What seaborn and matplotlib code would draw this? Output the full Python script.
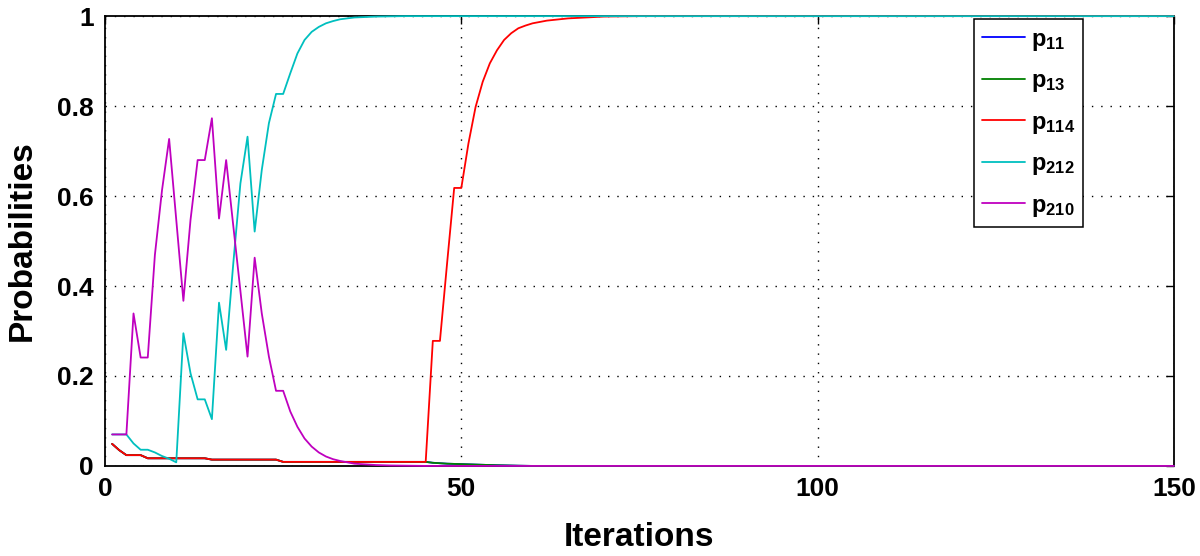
import matplotlib
matplotlib.use("Agg")
import matplotlib.pyplot as plt
import seaborn as sns
import pandas as pd

# Iterations / probabilities
ITER_P114 = list(range(1, 61)) + [62, 65, 70, 75, 150]
P114 = [0.049, 0.035, 0.024, 0.024, 0.024, 0.017, 0.017, 0.017, 0.017, 0.017,
        0.017, 0.017, 0.017, 0.017, 0.014, 0.014, 0.014, 0.014, 0.014, 0.014,
        0.014, 0.014, 0.014, 0.014, 0.009, 0.009, 0.009, 0.009, 0.009, 0.009,
        0.009, 0.009, 0.009, 0.009, 0.009, 0.009, 0.009, 0.009, 0.009, 0.009,
        0.009, 0.009, 0.009, 0.009, 0.009, 0.278, 0.278, 0.45, 0.618, 0.618,
        0.717, 0.798, 0.854, 0.895, 0.924, 0.947, 0.962, 0.973, 0.979, 0.984,
        0.99, 0.995, 0.999, 1.0, 1.0]

# p13 sits under p114 until iteration 45, then fades out
ITER_P13 = list(range(1, 51)) + [52, 55, 58, 60, 150]
P13 = P114[:45] + [0.007, 0.006, 0.005, 0.0045, 0.004, 0.003, 0.0015, 0.0005, 0.0, 0.0]

# p11 is hidden under p13 the whole way
ITER_P11 = ITER_P13
P11 = P13

ITER_P212 = list(range(1, 34)) + [35, 38, 42, 150]
P212 = [0.07, 0.07, 0.07, 0.05, 0.036, 0.036, 0.03, 0.022, 0.016, 0.008,
        0.295, 0.206, 0.148, 0.148, 0.104, 0.363, 0.258, 0.45, 0.628, 0.732,
        0.521, 0.658, 0.762, 0.827, 0.827, 0.873, 0.917, 0.947, 0.965, 0.976,
        0.984, 0.989, 0.993, 0.997, 0.999, 1.0, 1.0]

ITER_P210 = list(range(1, 39)) + [40, 45, 150]
P210 = [0.07, 0.07, 0.07, 0.339, 0.241, 0.241, 0.469, 0.613, 0.727, 0.547,
        0.367, 0.547, 0.68, 0.68, 0.773, 0.55, 0.68, 0.534, 0.389, 0.243,
        0.463, 0.339, 0.243, 0.167, 0.167, 0.121, 0.087, 0.061, 0.043, 0.030,
        0.021, 0.015, 0.011, 0.008, 0.005, 0.004, 0.003, 0.002, 0.001, 0.0, 0.0]

SERIES = [
    ("p$_{11}$", ITER_P11, P11, (0, 0, 1)),
    ("p$_{13}$", ITER_P13, P13, (0, 0.5, 0)),
    ("p$_{114}$", ITER_P114, P114, (1, 0, 0)),
    ("p$_{212}$", ITER_P212, P212, (0, 0.75, 0.75)),
    ("p$_{210}$", ITER_P210, P210, (0.75, 0, 0.75)),
]

sns.set_theme(style="white")
plt.rcParams["font.family"] = ["Liberation Sans", "DejaVu Sans"]
plt.rcParams["font.weight"] = "bold"
plt.rcParams["text.color"] = "black"
plt.rcParams["axes.labelcolor"] = "black"
plt.rcParams["mathtext.fontset"] = "custom"
plt.rcParams["mathtext.rm"] = "Liberation Sans:bold"
plt.rcParams["mathtext.it"] = "Liberation Sans:bold"
plt.rcParams["mathtext.bf"] = "Liberation Sans:bold"

fig = plt.figure(figsize=(12, 5.56), dpi=100)
ax = fig.add_axes([0.0875, 0.162, 0.8908, 0.809])

for label, xs, ys, color in SERIES:
    df = pd.DataFrame({"Iterations": xs, "Probabilities": ys})
    sns.lineplot(data=df, x="Iterations", y="Probabilities", color=color,
                 label=label, linewidth=1.3, ax=ax, zorder=3, clip_on=False,
                 estimator=None, sort=False)

ax.set_xlim(0, 150)
ax.set_ylim(0, 1)
ax.set_xticks([0, 50, 100, 150])
ax.set_yticks([0, 0.2, 0.4, 0.6, 0.8, 1])
ax.set_yticklabels(["0", "0.2", "0.4", "0.6", "0.8", "1"])

ax.grid(True, color="black", linewidth=1.0, linestyle=(0, (1, 5.7)))
for s in ax.spines.values():
    s.set_color("black")
    s.set_linewidth(1.3)
ax.tick_params(direction="in", length=6, width=1.0, top=True, right=True,
               labelsize=19, pad=8, colors="black")
for t in ax.get_xticklabels() + ax.get_yticklabels():
    t.set_fontweight("bold")

ax.set_xlabel("Iterations", fontsize=24, fontweight="bold", labelpad=15)
ax.set_ylabel("Probabilities", fontsize=24, fontweight="bold", labelpad=14)

leg = ax.legend(loc="upper left", bbox_to_anchor=(0.813, 0.993),
                borderaxespad=0, fancybox=False, framealpha=1,
                edgecolor="black", prop={"size": 17, "weight": "bold"},
                handlelength=1.8, labelspacing=0.7, borderpad=0.35,
                handletextpad=0.25)
leg.get_frame().set_linewidth(1.1)

fig.savefig("out.png", dpi=100)
